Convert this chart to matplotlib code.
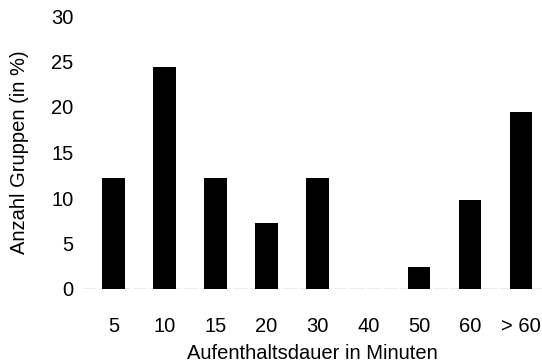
import matplotlib
matplotlib.use("Agg")
import matplotlib.pyplot as plt

categories = ["5", "10", "15", "20", "30", "40", "50", "60", "> 60"]
values = [12.2, 24.4, 12.2, 7.3, 12.2, 0.0, 2.4, 9.8, 19.5]
yticks = [0, 5, 10, 15, 20, 25, 30]

plt.rcParams['font.family'] = ['Liberation Sans', 'DejaVu Sans']
fs = 14.5
fig = plt.figure(figsize=(5.42, 3.64), dpi=100)
left, right = 83 / 542, 542 / 542
bottom, top = 1 - 289 / 364, 1 - 16 / 364
ax = fig.add_axes([left, bottom, right - left, top - bottom])
x = list(range(len(categories)))
ax.bar(x, values, width=0.44, color='black', zorder=3)
ax.set_xlim(-0.6, 8.41)
ax.set_ylim(0, 30)
ax.set_yticks(yticks)
ax.set_xticks(x)
ax.set_xticklabels(categories)
for s in ax.spines.values():
    s.set_visible(False)
ax.axhline(0, color='#a0a0a0', lw=1.0, ls=(0, (10, 2)), zorder=2)
ax.tick_params(axis='both', length=0, labelsize=fs)
ax.tick_params(axis='x', pad=20)
ax.tick_params(axis='y', pad=7)
ax.set_ylabel("Anzahl Gruppen (in %)", fontsize=fs, labelpad=16)
ax.set_xlabel("Aufenthaltsdauer in Minuten", fontsize=fs, labelpad=6)
fig.savefig("out.png", dpi=100)
